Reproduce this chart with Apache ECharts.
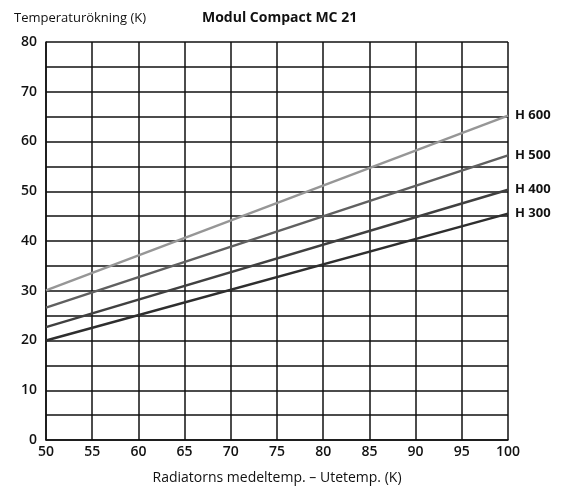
<!DOCTYPE html>
<html><head><meta charset="utf-8">
<script src="https://cdn.jsdelivr.net/npm/echarts@6/dist/echarts.min.js"></script>
<style>html,body{margin:0;padding:0;background:#fff}#c{width:562px;height:488px}</style>
</head><body><div id="c"></div>
<script>
const xValues = [50, 100];
const seriesNames = ['H 300', 'H 400', 'H 500', 'H 600'];
const h300 = [20, 45.5];
const h400 = [22.7, 50.3];
const h500 = [26.6, 57.2];
const h600 = [30.1, 65.2];
const lineColors = ['#2e2e2e', '#404040', '#606060', '#969696'];
const FONT = '"Open Sans", sans-serif';

const chart = echarts.init(document.getElementById('c'));
const allData = [h300, h400, h500, h600];
chart.setOption({
  animation: false,
  grid: {left: 46, right: 54, top: 42, bottom: 48, containLabel: false, outerBoundsMode: 'none'},
  title: [
    {text: 'Temperaturökning (K)', left: 9, top: 7, textStyle: {fontFamily: FONT, fontSize: 13, fontWeight: 'normal', color: '#111', letterSpacing: -0.2}},
    {text: 'Modul Compact MC 21', left: 197, top: 6, textStyle: {fontFamily: FONT, fontSize: 14, fontWeight: 'bold', color: '#111'}}
  ],
  xAxis: {
    type: 'value', min: 50, max: 100, interval: 5,
    name: 'Radiatorns medeltemp. – Utetemp. (K)', nameLocation: 'middle', nameGap: 31,
    nameTextStyle: {fontFamily: FONT, fontSize: 14, color: '#111'},
    axisLine: {show: true, lineStyle: {color: '#111', width: 1.5}},
    axisTick: {show: false},
    axisLabel: {fontFamily: FONT, fontSize: 14, fontWeight: 600, color: '#111', margin: 5},
    splitLine: {show: true, lineStyle: {color: '#111', width: 1.5}}
  },
  yAxis: {
    type: 'value', min: 0, max: 80, interval: 5,
    axisLine: {show: true, lineStyle: {color: '#111', width: 1.5}},
    axisTick: {show: false},
    axisLabel: {fontFamily: FONT, fontSize: 14, fontWeight: 600, color: '#111', margin: 9,
      formatter: v => (v % 10 === 0 ? String(v) : '')},
    splitLine: {show: true, lineStyle: {color: '#111', width: 1.5}}
  },
  series: allData.map((d, i) => ({
    type: 'line', name: seriesNames[i],
    data: xValues.map((x, j) => [x, d[j]]),
    symbol: 'none', silent: true,
    lineStyle: {color: lineColors[i], width: 2.4},
    endLabel: {show: true, formatter: seriesNames[i], distance: 7,
      fontFamily: FONT, fontSize: 13, fontWeight: 'bold', color: '#111', letterSpacing: -0.3}
  }))
});
</script></body></html>
